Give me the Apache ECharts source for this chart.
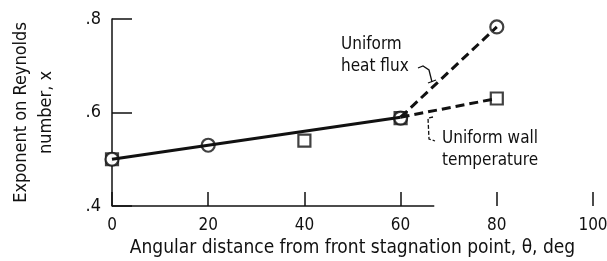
<!DOCTYPE html>
<html>
<head>
<meta charset="utf-8">
<script src="https://cdn.jsdelivr.net/npm/echarts@6/dist/echarts.min.js"></script>
<style>
  html, body { margin: 0; padding: 0; background: #fff; }
  #chart { width: 607px; height: 261px; }
</style>
</head>
<body>
<div id="chart"></div>
<script>
// 数据
var fitTheta = [0, 60]
var fitValues = [0.5, 0.59]
var circleTheta = [0, 20, 60, 80]
var circleValues = [0.5, 0.53, 0.588, 0.783]
var squareTheta = [0, 40, 60, 80]
var squareValues = [0.5, 0.54, 0.588, 0.63]
var heatFluxTheta = [60, 80]
var heatFluxValues = [0.59, 0.783]
var wallTheta = [60, 80]
var wallValues = [0.59, 0.63]
var xTicks = [0, 20, 40, 60, 80, 100]
var yTicks = ['.4', '.6', '.8']

function pairs(xs, ys) {
  return xs.map(function (x, i) { return [x, ys[i]] })
}

var font = '"DejaVu Sans Condensed", "Liberation Sans Narrow", sans-serif'
var myChart = echarts.init(document.getElementById('chart'))
myChart.setOption({
  animation: false,
  grid: { left: 112, right: 14, top: 19, bottom: 55, containLabel: false, outerBoundsMode: 'none' },
  xAxis: {
    type: 'value',
    min: 0,
    max: 100,
    interval: 20,
    name: 'Angular distance from front stagnation point, \u03b8, deg',
    nameLocation: 'middle',
    nameGap: 33,
    nameTextStyle: { color: '#111', fontFamily: font, fontSize: 19 },
    axisLine: { show: false },
    axisTick: { inside: true, length: 14, lineStyle: { color: '#111', width: 1.5 } },
    axisLabel: {
      color: '#111', fontFamily: font, fontSize: 17, margin: 11,
      formatter: function (v) { return xTicks.indexOf(v) >= 0 ? String(v) : '' }
    },
    splitLine: { show: false }
  },
  yAxis: {
    type: 'value',
    min: 0.4,
    max: 0.8,
    interval: 0.2,
    name: 'Exponent on Reynolds\nnumber, x',
    nameLocation: 'middle',
    nameGap: 53,
    nameTextStyle: { color: '#111', fontFamily: font, fontSize: 18, lineHeight: 25 },
    axisLine: { show: true, lineStyle: { color: '#111', width: 1.5 } },
    axisTick: { inside: true, length: 20, lineStyle: { color: '#111', width: 1.5 } },
    axisLabel: {
      color: '#111', fontFamily: font, fontSize: 18, margin: 11,
      formatter: function (v) { return yTicks[Math.round((v - 0.4) / 0.2)] }
    },
    splitLine: { show: false }
  },
  series: [
    {
      type: 'line',
      data: pairs(fitTheta, fitValues),
      symbol: 'none',
      lineStyle: { color: '#111', width: 3 },
      markLine: {
        silent: true,
        symbol: 'none',
        label: { show: false },
        lineStyle: { color: '#111', width: 1.5, type: 'solid' },
        data: [[{ coord: [0, 0.4] }, { coord: [67, 0.4] }]]
      }
    },
    {
      type: 'line',
      data: pairs(heatFluxTheta, heatFluxValues),
      symbol: 'none',
      lineStyle: { color: '#111', width: 3, type: [9, 5] }
    },
    {
      type: 'line',
      data: pairs(wallTheta, wallValues),
      symbol: 'none',
      lineStyle: { color: '#111', width: 3, type: [9, 5] }
    },
    {
      type: 'scatter',
      data: pairs(squareTheta, squareValues),
      symbol: 'rect',
      symbolSize: 12,
      itemStyle: { color: '#fff', borderColor: '#111', borderWidth: 2.2 }
    },
    {
      type: 'scatter',
      data: pairs(circleTheta, circleValues),
      symbol: 'circle',
      symbolSize: 13,
      itemStyle: { color: '#fff', borderColor: '#111', borderWidth: 2.2 }
    }
  ],
  graphic: [
    {
      type: 'text', left: 341, top: 34,
      style: { text: 'Uniform\nheat flux', fill: '#111', font: '17px ' + font, lineHeight: 22 }
    },
    {
      type: 'polyline',
      shape: { points: [[418, 68], [423, 66], [429, 70], [432, 82]] },
      style: { stroke: '#111', lineWidth: 1.3, fill: null }
    },
    {
      type: 'polyline',
      shape: { points: [[428, 83], [436, 80]] },
      style: { stroke: '#111', lineWidth: 1.3, fill: null }
    },
    {
      type: 'text', left: 442, top: 128,
      style: { text: 'Uniform wall\ntemperature', fill: '#111', font: '17px ' + font, lineHeight: 22 }
    },
    {
      type: 'polyline',
      shape: { points: [[433, 117], [428, 118], [429, 139], [435, 141]] },
      style: { stroke: '#111', lineWidth: 1.3, fill: null, lineDash: [4, 2] }
    }
  ]
})
</script>
</body>
</html>
